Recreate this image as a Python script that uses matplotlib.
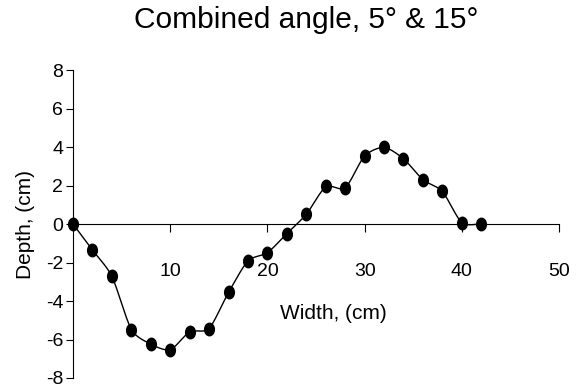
import matplotlib as mpl
import matplotlib.pyplot as plt
import matplotlib.path as mpath
from matplotlib.transforms import Affine2D
import numpy as np

mpl.rcParams['font.family'] = ['Liberation Sans', 'DejaVu Sans']
mpl.rcParams['axes.unicode_minus'] = False

# profile across the channel, every 2 cm
width = [0, 2, 4, 6, 8, 10, 12, 14, 16, 18, 20,
         22, 24, 26, 28, 30, 32, 34, 36, 38, 40, 42]
depth = [0.0, -1.35, -2.7, -5.5, -6.25, -6.55, -5.6, -5.45, -3.55, -1.9, -1.5,
         -0.5, 0.5, 1.95, 1.85, 3.55, 4.0, 3.4, 2.3, 1.7, 0.05, 0.0]

xticks = [10, 20, 30, 40, 50]
yticks = [-8, -6, -4, -2, 0, 2, 4, 6, 8]


def smooth(xs, ys, n=12, tension=0.6):
    # catmull-rom through the points, damped so it stays close to straight
    p = np.column_stack([xs, ys]).astype(float)
    p = np.vstack([p[0], p, p[-1]])
    t = np.linspace(0, 1, n, endpoint=False)[:, None]
    out = []
    for i in range(1, len(p) - 2):
        p0, p1, p2, p3 = p[i - 1], p[i], p[i + 1], p[i + 2]
        lin = p1 + (p2 - p1) * t
        cr = p1 + 0.5 * ((-p0 + p2) * t + (2 * p0 - 5 * p1 + 4 * p2 - p3) * t ** 2 +
                         (-p0 + 3 * p1 - 3 * p2 + p3) * t ** 3)
        out.append(lin + tension * (cr - lin))
    out.append(p[-2][None, :])
    out = np.vstack(out)
    return out[:, 0], out[:, 1]


sx, sy = smooth(width, depth)

# slightly tall dot
dot = mpath.Path.unit_circle().transformed(Affine2D().scale(0.78, 1.0))

fig = plt.figure(figsize=(5.86, 3.86), dpi=100)
ax = fig.add_axes([73/586, 1 - 378/386, (559 - 73)/586, (378 - 70)/386])

ax.plot(sx, sy, color='black', lw=1.0, clip_on=False)
ax.plot(width, depth, ls='none', marker=dot, markersize=9,
        markerfacecolor='black', markeredgecolor='black', clip_on=False)

ax.set_xlim(0, 50)
ax.set_ylim(-8, 8)
ax.set_xticks(xticks)
ax.set_yticks(yticks)
ax.spines['top'].set_visible(False)
ax.spines['right'].set_visible(False)
ax.spines['bottom'].set_position(('data', 0))
ax.tick_params(axis='x', direction='out', length=6, pad=22, labelsize=14)
ax.tick_params(axis='y', direction='out', length=5, pad=2, labelsize=14)

ax.set_xlabel('Width, (cm)', fontsize=15)
ax.xaxis.set_label_coords((333 - 73)/486, 1 - (304 - 70)/308)
ax.set_ylabel('Depth, (cm)', fontsize=15, labelpad=8)
fig.suptitle('Combined angle, 5° & 15°', fontsize=21.5, x=(140 + 473)/2/586, y=1 - 6/386, va='top')

plt.savefig('out.png', dpi=100)
